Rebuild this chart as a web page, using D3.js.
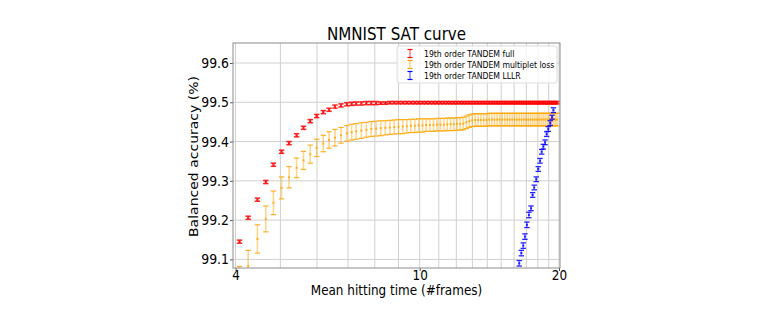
<!DOCTYPE html>
<html>
<head>
<meta charset="utf-8">
<script src="https://cdn.jsdelivr.net/npm/d3@7"></script>
<style>
  body { margin: 0; background: #fff; }
  text { font-family: "DejaVu Sans", sans-serif; fill: #000; }
</style>
</head>
<body>
<div class="visual-data"></div>
<script>
//Data
const frames = [4.08, 4.26, 4.46, 4.65, 4.83, 5.03, 5.22, 5.42, 5.61, 5.80, 5.99, 6.19, 6.37, 6.56, 6.76, 6.96, 7.13, 7.29,
  7.48, 7.67, 7.86, 8.05, 8.24, 8.43, 8.62, 8.81, 9.00, 9.19, 9.38, 9.57, 9.76, 9.95, 10.14, 10.33, 10.52, 10.71,
  10.90, 11.09, 11.28, 11.47, 11.66, 11.85, 12.04, 12.23, 12.42, 12.61, 12.80, 12.99, 13.18, 13.37, 13.56, 13.75,
  13.94, 14.13, 14.32, 14.51, 14.70, 14.89, 15.08, 15.27, 15.46, 15.65, 15.84, 16.03, 16.22, 16.41, 16.60, 16.79,
  16.98, 17.17, 17.36, 17.55, 17.74, 17.93, 18.12, 18.31, 18.50, 18.69, 18.88, 19.07, 19.26, 19.45, 19.64, 19.81];
const fullMean = [99.145, 99.206, 99.252, 99.297, 99.341, 99.374, 99.396, 99.416, 99.435, 99.452, 99.465, 99.475,
  99.481, 99.489, 99.492, 99.495, 99.496, 99.497,
  99.497, 99.498, 99.498, 99.498, 99.498, 99.498, 99.499, 99.499, 99.499, 99.499, 99.499, 99.499, 99.499, 99.499,
  99.499, 99.499, 99.499, 99.499, 99.499, 99.499, 99.499, 99.499, 99.499, 99.499, 99.499, 99.499, 99.499, 99.499,
  99.499, 99.499, 99.499, 99.499, 99.499, 99.499, 99.499, 99.499, 99.499, 99.499, 99.499, 99.499, 99.499, 99.499,
  99.499, 99.499, 99.499, 99.499, 99.499, 99.499, 99.499, 99.499, 99.499, 99.499, 99.499, 99.499, 99.499, 99.499,
  99.499, 99.499, 99.499, 99.499, 99.499, 99.499, 99.499, 99.499, 99.499, 99.499];
const fullErr = [0.004, 0.004, 0.004, 0.004, 0.004, 0.004, 0.004, 0.004, 0.004, 0.004, 0.004, 0.004, 0.004, 0.004,
  0.004, 0.004, 0.004, 0.004, 0.004, 0.004, 0.004, 0.004, 0.003, 0.003, 0.003, 0.003, 0.003, 0.003, 0.003, 0.003,
  0.003, 0.003, 0.003, 0.003, 0.003, 0.003, 0.003, 0.003, 0.003, 0.003, 0.003, 0.003, 0.003, 0.003, 0.003, 0.003,
  0.003, 0.003, 0.003, 0.003, 0.003, 0.003, 0.003, 0.003, 0.003, 0.003, 0.003, 0.003, 0.003, 0.003, 0.003, 0.003,
  0.003, 0.003, 0.003, 0.003, 0.003, 0.003, 0.003, 0.003, 0.003, 0.003, 0.003, 0.003, 0.003, 0.003, 0.003, 0.003,
  0.003, 0.003, 0.003, 0.003, 0.003, 0.003];
const multiMean = [99.040, 99.083, 99.152, 99.203, 99.244, 99.282, 99.309, 99.333, 99.352, 99.368, 99.384, 99.395,
  99.404, 99.410, 99.416, 99.421, 99.424, 99.426,
  99.428, 99.430, 99.432, 99.433, 99.434, 99.435, 99.436, 99.437, 99.438, 99.438, 99.439, 99.440, 99.440, 99.441,
  99.441, 99.442, 99.442, 99.442, 99.443, 99.443, 99.443, 99.444, 99.444, 99.444, 99.445, 99.445, 99.446, 99.449,
  99.452, 99.454, 99.455, 99.455, 99.455, 99.455, 99.455, 99.456, 99.456, 99.456, 99.456, 99.456, 99.456, 99.456,
  99.456, 99.456, 99.456, 99.456, 99.456, 99.456, 99.456, 99.456, 99.456, 99.456, 99.456, 99.456, 99.456, 99.456,
  99.456, 99.456, 99.456, 99.456, 99.456, 99.456, 99.456, 99.456, 99.456, 99.456];
const multiErr = [0.042, 0.040, 0.036, 0.033, 0.030, 0.028, 0.027, 0.025, 0.023, 0.023, 0.022, 0.021, 0.021, 0.021,
  0.020, 0.020, 0.020, 0.020, 0.020, 0.019, 0.019, 0.019, 0.019, 0.018, 0.018, 0.018, 0.018, 0.018, 0.017, 0.017,
  0.017, 0.017, 0.017, 0.016, 0.016, 0.016, 0.016, 0.016, 0.016, 0.016, 0.016, 0.016, 0.016, 0.016, 0.016, 0.016,
  0.016, 0.016, 0.016, 0.016, 0.016, 0.016, 0.016, 0.016, 0.016, 0.016, 0.016, 0.016, 0.016, 0.016, 0.016, 0.016,
  0.016, 0.016, 0.016, 0.016, 0.016, 0.016, 0.016, 0.016, 0.016, 0.016, 0.016, 0.016, 0.016, 0.016, 0.016, 0.016,
  0.016, 0.016, 0.016, 0.016, 0.016, 0.016];
const lllrFrames = [16.10, 16.25, 16.41, 16.58, 16.74, 16.88, 17.05, 17.22, 17.40, 17.54, 17.68, 17.86, 18.04, 18.20,
  18.35, 18.50, 18.66, 18.81, 18.96, 19.15, 19.32, 19.45];
const lllrMean = [99.040, 99.066, 99.090, 99.116, 99.135, 99.158, 99.188, 99.213, 99.230, 99.264, 99.283, 99.304,
  99.330, 99.351, 99.374, 99.387, 99.398, 99.419, 99.432, 99.447, 99.462, 99.480];
const lllrErr = [0.007, 0.007, 0.007, 0.007, 0.007, 0.007, 0.007, 0.007, 0.006, 0.006, 0.006, 0.006, 0.006, 0.006,
  0.006, 0.006, 0.006, 0.006, 0.006, 0.006, 0.005, 0.006];
const xTicks = [4, 10, 20];
const xMinor = [5, 6, 7, 8, 9, 11, 12, 13, 14, 15, 16, 17, 18, 19];
const yTicks = [99.1, 99.2, 99.3, 99.4, 99.5, 99.6];
const seriesNames = ["19th order TANDEM full", "19th order TANDEM multiplet loss", "19th order TANDEM LLLR"];
const seriesColors = ["#ff0000", "#ffa500", "#0000ff"];

const width = 762;
const height = 326;
const plotLeft = 233, plotRight = 560, plotTop = 43, plotBottom = 268;
//the picture is squeezed a little sideways, so text is too
const squeeze = "scale(0.89,1)";

var svg = d3.select(".visual-data")
            .append("svg")
            .attr("width", width)
            .attr("height", height)
            .style("background-color", "#FFFFFF");

//Scales
const xScale = d3.scaleLog().domain([3.95, 20.1]).range([plotLeft, plotRight]);
const yScale = d3.scaleLinear().domain([99.078, 99.651]).range([plotBottom, plotTop]);

//Grid
svg.append("g")
   .selectAll("line")
   .data(xMinor.concat(xTicks))
   .enter()
   .append("line")
   .attr("x1", d => xScale(d)).attr("x2", d => xScale(d))
   .attr("y1", plotTop).attr("y2", plotBottom)
   .attr("stroke", "#d0d0d0")
   .attr("stroke-width", 1);
svg.append("g")
   .selectAll("line")
   .data(yTicks)
   .enter()
   .append("line")
   .attr("x1", plotLeft).attr("x2", plotRight)
   .attr("y1", d => yScale(d)).attr("y2", d => yScale(d))
   .attr("stroke", "#d0d0d0")
   .attr("stroke-width", 1);

//Axes
const xAxis = d3.axisBottom(xScale).tickValues(xTicks).tickFormat(d3.format("d")).tickSize(3);
const yAxis = d3.axisLeft(yScale).tickValues(yTicks).tickFormat(d3.format(".1f")).tickSize(3);
svg.append("g")
   .attr("id", "x-axis")
   .attr("transform", "translate(0," + plotBottom + ")")
   .call(xAxis)
   .call(g => g.select(".domain").remove())
   .call(g => g.selectAll("line").attr("stroke", "#555"))
   .call(g => g.selectAll("text").attr("font-size", 13.5).attr("y", 11.5).attr("dy", 0).attr("transform", squeeze));
svg.append("g")
   .attr("id", "y-axis")
   .attr("transform", "translate(" + plotLeft + ",0)")
   .call(yAxis)
   .call(g => g.select(".domain").remove())
   .call(g => g.selectAll("line").attr("stroke", "#555"))
   .call(g => g.selectAll("text").attr("font-size", 14).attr("x", -4.5).attr("transform", squeeze));

//Clip for data
svg.append("clipPath")
   .attr("id", "plot-clip")
   .append("rect")
   .attr("x", plotLeft).attr("y", plotTop)
   .attr("width", plotRight - plotLeft).attr("height", plotBottom - plotTop);

function errorBars(xs, means, errs, color, cap, markerSize, capWidth) {
  var g = svg.append("g").attr("clip-path", "url(#plot-clip)");
  var pts = xs.map((x, i) => ({x: x, m: means[i], e: errs[i]}));
  g.selectAll(".whisker")
   .data(pts).enter().append("line")
   .attr("x1", d => xScale(d.x)).attr("x2", d => xScale(d.x))
   .attr("y1", d => yScale(d.m - d.e)).attr("y2", d => yScale(d.m + d.e))
   .attr("stroke", color).attr("stroke-opacity", 0.45).attr("stroke-width", 1.6);
  [-1, 1].forEach(s => {
    g.selectAll(".cap" + s)
     .data(pts).enter().append("line")
     .attr("x1", d => xScale(d.x) - cap).attr("x2", d => xScale(d.x) + cap)
     .attr("y1", d => yScale(d.m + s * d.e)).attr("y2", d => yScale(d.m + s * d.e))
     .attr("stroke", color).attr("stroke-opacity", 0.85).attr("stroke-width", capWidth);
  });
  g.selectAll(".pt")
   .data(pts).enter().append("rect")
   .attr("x", d => xScale(d.x) - markerSize / 2)
   .attr("y", d => yScale(d.m) - markerSize / 2)
   .attr("width", markerSize).attr("height", markerSize)
   .attr("fill", color).attr("fill-opacity", 0.8);
}

errorBars(frames, multiMean, multiErr, seriesColors[1], 2.7, 2, 1.2);
errorBars(frames, fullMean, fullErr, seriesColors[0], 2.7, 2.2, 1.5);
errorBars(lllrFrames, lllrMean, lllrErr, seriesColors[2], 2.7, 2, 1.3);

//Frame
svg.append("rect")
   .attr("x", plotLeft).attr("y", plotTop)
   .attr("width", plotRight - plotLeft).attr("height", plotBottom - plotTop)
   .attr("fill", "none")
   .attr("stroke", "#8c8c8c")
   .attr("stroke-width", 1);

//Legend
var legend = svg.append("g").attr("transform", "translate(397,46)");
legend.append("rect")
      .attr("x", 0).attr("y", 0)
      .attr("width", 160).attr("height", 37)
      .attr("rx", 2)
      .attr("fill", "#fff").attr("fill-opacity", 0.8)
      .attr("stroke", "#dcdcdc");
seriesNames.forEach((name, i) => {
  var ly = 7.5 + i * 11;
  legend.append("line")
        .attr("x1", 13).attr("x2", 13).attr("y1", ly - 4).attr("y2", ly + 4)
        .attr("stroke", seriesColors[i]).attr("stroke-opacity", 0.5).attr("stroke-width", 1.5);
  [-4, 4].forEach(o => legend.append("line")
        .attr("x1", 10.5).attr("x2", 15.5).attr("y1", ly + o).attr("y2", ly + o)
        .attr("stroke", seriesColors[i]).attr("stroke-width", 1.2));
  legend.append("text")
        .attr("transform", "translate(27," + (ly + 3.2) + ") " + squeeze)
        .attr("font-size", 8.7)
        .text(name);
});

//Titles
svg.append("text")
   .attr("transform", "translate(" + ((plotLeft + plotRight) / 2) + ",40) " + squeeze)
   .attr("text-anchor", "middle")
   .attr("font-size", 17)
   .text("NMNIST SAT curve");
svg.append("text")
   .attr("transform", "translate(" + ((plotLeft + plotRight) / 2) + ",295) " + squeeze)
   .attr("text-anchor", "middle")
   .attr("font-size", 13.5)
   .text("Mean hitting time (#frames)");
svg.append("text")
   .attr("transform", "translate(198," + ((plotTop + plotBottom) / 2 + 1) + ") rotate(-90) scale(1,0.89)")
   .attr("text-anchor", "middle")
   .attr("font-size", 14)
   .text("Balanced accuracy (%)");
</script>
</body>
</html>
